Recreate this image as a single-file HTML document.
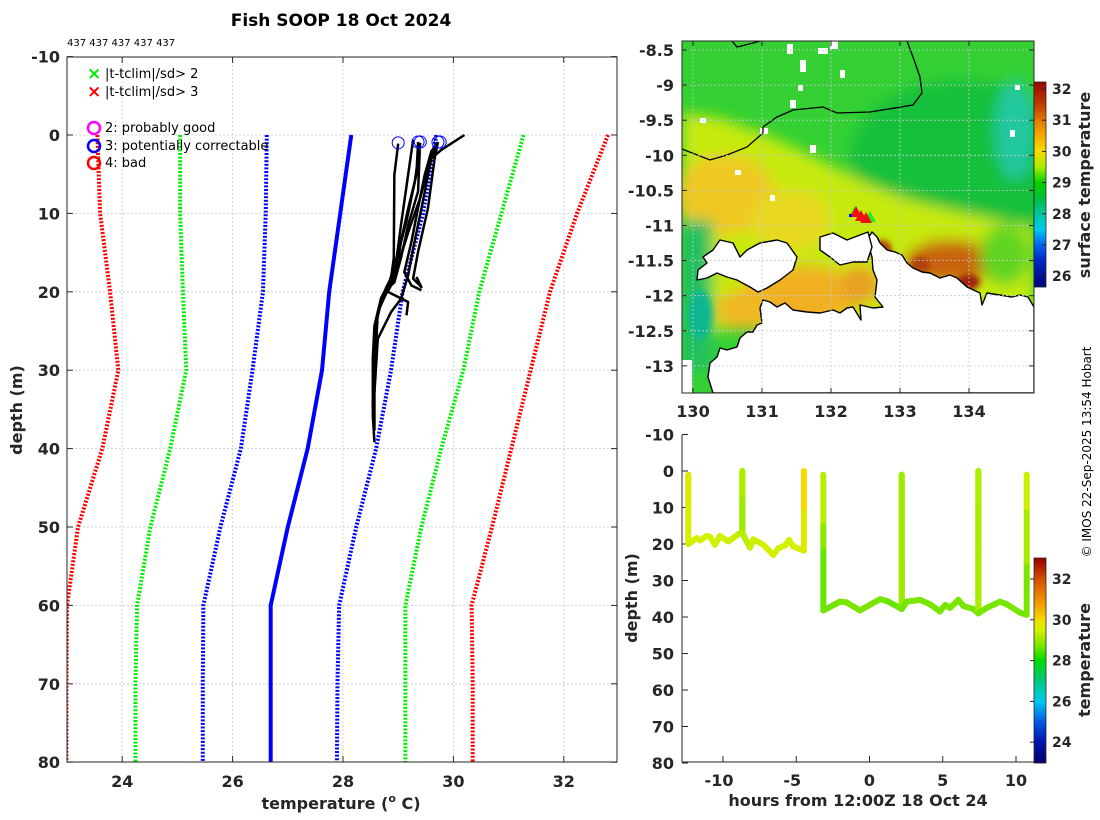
<!DOCTYPE html>
<html><head><meta charset="utf-8"><style>
html,body{margin:0;padding:0;background:#fff;width:1100px;height:820px;overflow:hidden}
svg{display:block;font-family:"DejaVu Sans","Liberation Sans",sans-serif}
.tk{font-weight:bold;font-size:16px;fill:#262626}
.cb{font-weight:bold;font-size:14px;fill:#262626}
.lg{font-size:13px;fill:#000}
</style></head><body>
<svg id="root" width="1100" height="820" viewBox="0 0 1100 820" xmlns="http://www.w3.org/2000/svg">
<defs>
<filter id="bl" x="-20%" y="-20%" width="140%" height="140%"><feGaussianBlur stdDeviation="7"/></filter>
<filter id="bl2" x="-20%" y="-20%" width="140%" height="140%"><feGaussianBlur stdDeviation="3"/></filter>
<clipPath id="mapclip"><rect x="682" y="41" width="352" height="352"/></clipPath>
<clipPath id="lclip"><rect x="67" y="57" width="550" height="706"/></clipPath>
</defs>
<text x="341" y="26" text-anchor="middle" font-size="17" font-weight="bold" fill="#000">Fish SOOP 18 Oct 2024</text>
<text x="67" y="46" font-size="10" fill="#000">437 437 437 437 437</text>

<g id="left"></g>

<g id="map">
 <g clip-path="url(#mapclip)">
  <rect x="682" y="41" width="352" height="352" fill="#34d034"/>
  <g filter="url(#bl)">
   <ellipse cx="960" cy="160" rx="110" ry="80" fill="#18c03a"/>
   <polygon points="682,112 720,118 760,132 800,150 830,165 870,185 910,200 960,212 1034,228 1034,330 682,330" fill="#c6ea10"/>
   <ellipse cx="725" cy="195" rx="50" ry="40" fill="#f0c820"/>
   <ellipse cx="790" cy="220" rx="40" ry="30" fill="#e8d820"/>
   <ellipse cx="800" cy="295" rx="60" ry="30" fill="#f0b020"/>
   <ellipse cx="745" cy="310" rx="30" ry="20" fill="#f0b820"/>
   <ellipse cx="860" cy="285" rx="20" ry="20" fill="#e8a020"/>
   <ellipse cx="950" cy="262" rx="45" ry="22" fill="#c86410"/>
   <ellipse cx="1005" cy="255" rx="25" ry="30" fill="#60d420"/>
   <rect x="682" y="220" width="30" height="150" fill="#20c060"/>
   <ellipse cx="1015" cy="130" rx="20" ry="50" fill="#20c8a0"/>
  </g>
  <g filter="url(#bl2)">
   <ellipse cx="882" cy="250" rx="10" ry="10" fill="#b84010"/>
   <ellipse cx="968" cy="282" rx="12" ry="8" fill="#a02008"/>
   <ellipse cx="920" cy="265" rx="10" ry="8" fill="#b04010"/>
   <ellipse cx="700" cy="315" rx="12" ry="25" fill="#10b890"/>
  </g>
  <g fill="#fff">
   <rect x="787" y="44" width="6" height="10"/><rect x="800" y="60" width="6" height="12"/><rect x="818" y="48" width="10" height="6"/>
   <rect x="840" y="70" width="5" height="8"/><rect x="790" y="100" width="6" height="8"/><rect x="700" y="118" width="6" height="5"/>
   <rect x="760" y="128" width="8" height="6"/><rect x="1010" y="130" width="5" height="7"/><rect x="798" y="85" width="5" height="6"/>
   <rect x="810" y="145" width="6" height="8"/><rect x="830" y="41" width="8" height="8"/><rect x="1015" y="85" width="5" height="5"/>
   <rect x="735" y="170" width="6" height="5"/><rect x="770" y="195" width="5" height="6"/><rect x="682" y="360" width="10" height="33"/>
  </g>
  <g fill="#fff" stroke="#000" stroke-width="1.4" stroke-linejoin="round">
   <polygon points="1034,307 1028,297 1020,295 1012,297 987,293 982,305 980,293 967,287 957,278 950,275 940,278 930,273 922,272 913,268 907,263 902,255 895,252 887,250 880,243 877,237 872,232 867,240 872,257 873,270 877,280 875,297 883,307 873,308 860,305 861,320 853,307 847,308 840,313 833,310 820,313 807,312 793,310 785,303 777,307 770,302 763,300 760,308 762,323 757,325 753,332 747,332 740,338 737,347 727,350 720,348 717,357 710,363 708,377 713,393 1034,393"/>
   <polygon points="820,237 833,233 847,240 860,235 868,232 872,247 867,262 853,262 840,265 830,257 820,250"/>
   <polygon points="720,240 733,243 740,257 747,250 760,243 777,240 787,243 797,257 793,270 780,280 767,288 758,292 750,287 737,280 727,277 717,273 707,278 697,280 698,270 707,263 703,257 713,250"/>
  </g>
  <polyline fill="none" stroke="#000" stroke-width="1.3" points="682,149 710,160 727,155 747,147 763,133 763,127 777,117 793,110 823,107 837,113 870,112 913,105 922,93 920,77 913,57 907,41"/>
  <polyline fill="none" stroke="#000" stroke-width="1.3" points="732,41 737,47 753,43 760,41"/>
  <g>
   <polygon points="855,206 861,217 849,217" fill="#22ee22"/><polygon points="870,211 876,222 864,222" fill="#22ee22"/>
   <polygon points="856,206 862,217 850,217" fill="#ee1111"/><polygon points="861,210 867,221 855,221" fill="#ee1111"/><polygon points="866,212 872,223 860,223" fill="#ee1111"/>
   <rect x="849" y="214" width="3" height="3" fill="#0000dd"/>
  </g>
 </g>
</g>

<g id="ts"></g>

<text transform="translate(1091,452) rotate(-90)" text-anchor="middle" font-size="12" fill="#000">© IMOS 22-Sep-2025 13:54 Hobart</text>
</svg>
<script>
const NS='http://www.w3.org/2000/svg';
// ---------- left profile data ----------
const depthGrid=[0,10,20,30,40,50,60,70,80];
const meanT=[28.15,27.95,27.75,27.62,27.36,27.0,26.69,26.69,26.69];
const sd1Lo=[26.62,26.6,26.55,26.36,26.15,25.78,25.47,25.46,25.46];
const sd1Hi=[29.69,29.45,29.08,28.87,28.6,28.24,27.93,27.9,27.89];
const sd2Lo=[25.05,25.05,25.1,25.16,24.87,24.51,24.27,24.24,24.24];
const sd2Hi=[31.27,30.87,30.47,30.18,29.78,29.42,29.13,29.13,29.13];
const sd3Lo=[23.55,23.6,23.78,23.93,23.64,23.2,23.0,22.99,22.99];
const sd3Hi=[32.8,32.24,31.75,31.4,31.05,30.7,30.33,30.35,30.35];
const profT=[
 [29.0,28.93,28.92,28.87,28.69,28.57,28.54,28.54,28.57],
 [29.36,29.39,29.36,29.18,29.05,28.93,28.75,28.63,28.57,28.57,28.57],
 [29.72,29.6,29.48,29.36,29.24,29.11,29.24,29.42],
 [30.2,29.78,29.6,29.42,29.27,29.18,29.05,28.87,28.63,28.57],
 [29.36,29.33,29.18,29.05,28.96,28.81,29.18,29.15],
 [29.72,29.66,29.54,29.36,29.27,29.42,29.33],
 [29.27,29.05,28.93,28.63,28.54],
 [29.4,29.3,29.15,29.0,28.85,28.7,28.6,28.56],
 [29.7,29.55,29.4,29.2,29.0,28.78,28.62,28.58]
];
const profD=[
 [1.1,5.1,15.7,18.3,20.8,24.3,28.5,35.8,39.2],
 [0.9,2.1,7.2,11.5,15.7,18.8,20.0,22.6,25.1,29.8,37.7],
 [0.9,2.1,5.1,9.3,13.6,17.5,19.2,19.8],
 [0,1.9,3.0,9.4,14.5,17.9,20.9,22.6,26.0,32.8],
 [0.9,5.1,9.4,13.6,17.9,20.0,21.3,23.0],
 [0.9,3.0,9.3,14.9,18.3,19.4,18.1],
 [0.6,11.5,17.9,22.6,34.9],
 [1.0,6.0,11.0,15.0,18.5,21.0,24.0,31.0],
 [1.0,4.0,8.0,12.0,16.5,19.5,23.0,29.0]
];
const flagT=[29.0,29.36,29.4,29.72,29.76];
const flagD=[1.0,0.9,0.9,0.9,0.9];
const lXticks=[24,26,28,30,32];
const lYticks=[-10,0,10,20,30,40,50,60,70,80];
// ---------- map axes ----------
const lonTicks=[130,131,132,133,134];
const latTicks=[-8.5,-9,-9.5,-10,-10.5,-11,-11.5,-12,-12.5,-13];
const mapCbTicks=[26,27,28,29,30,31,32];
// ---------- depth-time data ----------
const segH=[
 [-12.37,-12.37,-12.37,-11.8,-11.57,-11.12,-10.89,-10.55,-10.21,-9.64,-8.95,-8.68,-8.68,-8.68,-8.68,-8.68,-8.16,-7.93,-7.25,-6.57,-6.23,-5.77,-5.48,-5.21,-4.48,-4.48,-4.48],
 [-3.15,-3.15,-3.15,-3.15,-2.02,-1.56,-0.65,0.72,1.29,2.2,2.2,2.2,2.2,2.2,2.54,3.45,4.13,4.81,5.16,5.5,6.07,6.41,7.09,7.43,7.43,7.43,7.43,7.43,8.0,8.91,9.36,10.27,10.73,10.73,10.73,10.73]
];
const segD=[
 [1,10,20,18.4,19,17.8,18,20.2,17.8,19.3,17.3,17,8,0,8,17,21,18.7,20.2,23,21.2,20.4,18.9,20.7,21.8,10,0],
 [1,15,22,38.2,35.8,36,38.2,35.1,35.8,37.8,25,15,1,37.8,35.8,35.3,36.5,38.5,36.7,37.5,35.3,37,37.8,39,20,10,0,39,37.5,35.8,36.5,38.8,39.4,25,10,1]
];
const segT=[
 [29.7,29.6,29.5,29.5,29.5,29.5,29.5,29.5,29.5,29.5,29.4,29.3,28.9,29.4,28.9,29.2,29.4,29.4,29.5,29.6,29.5,29.5,29.5,29.5,29.6,29.8,30.3],
 [29.4,29.2,28.6,28.6,28.7,28.7,28.7,28.7,28.7,28.5,28.5,29.0,29.5,28.6,28.7,28.7,28.7,28.7,28.7,28.7,28.7,28.7,28.7,28.6,28.8,29.2,29.6,28.7,28.7,28.7,28.7,28.7,28.6,28.8,29.4,29.5]
];
const tsXticks=[-10,-5,0,5,10];
const tsYticks=[-10,0,10,20,30,40,50,60,70,80];
const tsCbTicks=[24,26,28,30,32];

// ---------- scales ----------
const lx=t=>67+(t-23)*55.2, ly=d=>135+d*7.84;
const mx=l=>693+(l-130)*69, my=a=>50+(-8.5-a)*70.2;
const tx=h=>869.5+h*14.65, ty=d=>471+d*3.65;
const cb1y=t=>89+(32-t)*31.2;
const cb2y=t=>579+(32-t)*20.4;

function el(tag,attrs,parent){const e=document.createElementNS(NS,tag);for(const k in attrs)e.setAttribute(k,attrs[k]);parent.appendChild(e);return e;}
function txt(s,attrs,parent){const e=el('text',attrs,parent);e.textContent=s;return e;}
function lerpColor(stops,v){
 if(v<=stops[0][0])return 'rgb('+stops[0][1].join(',')+')';
 for(let i=1;i<stops.length;i++){if(v<=stops[i][0]){const a=stops[i-1],b=stops[i],f=(v-a[0])/(b[0]-a[0]);
  const ca=a[1],cc=b[1];return 'rgb('+ca.map((c,j)=>Math.round(c+(cc[j]-c)*f)).join(',')+')';}}
 return 'rgb('+stops[stops.length-1][1].join(',')+')';
}
const mapStops=[[25.6,[0,0,120]],[26,[0,16,150]],[26.5,[0,40,200]],[27,[0,100,240]],[27.5,[0,200,240]],[28,[0,200,160]],[28.5,[0,190,60]],[29,[0,210,0]],[29.5,[170,235,0]],[30,[245,220,0]],[30.5,[245,170,0]],[31,[225,120,0]],[31.5,[190,60,0]],[32.3,[150,0,0]]];
const tsStops=[[23,[0,0,110]],[24,[0,20,170]],[25,[0,90,230]],[26,[0,200,240]],[27,[0,200,130]],[28,[0,220,0]],[28.7,[120,230,0]],[29.5,[210,240,0]],[30,[245,220,0]],[31,[240,140,0]],[32,[210,80,0]],[33,[150,0,0]]];
function grid(parent,x1,y1,x2,y2,name){const g=el('line',{x1,y1,x2,y2,stroke:'#c4c8dc','stroke-width':0.8,'stroke-dasharray':'2 2'},parent);}

// ---------- left panel ----------
const L=document.getElementById('left');
lXticks.forEach(t=>{grid(L,lx(t),57,lx(t),762,'x-gridline');
 el('line',{x1:lx(t),y1:762,x2:lx(t),y2:756,stroke:'#262626'},L);el('line',{x1:lx(t),y1:57,x2:lx(t),y2:63,stroke:'#262626'},L);
 const e=txt(t,{x:lx(t),y:787,'text-anchor':'middle',class:'tk'},L);
 
 });
lYticks.forEach(d=>{if(d>-10&&d<80)grid(L,67,ly(d),617,ly(d),'y-gridline');
 el('line',{x1:67,y1:ly(d),x2:73,y2:ly(d),stroke:'#262626'},L);el('line',{x1:617,y1:ly(d),x2:611,y2:ly(d),stroke:'#262626'},L);
 const e=txt(d,{x:60,y:ly(d)+6,'text-anchor':'end',class:'tk'},L);
 
 });
const lg=el('g',{'clip-path':'url(#lclip)'},L);
function clim(arr,color,dotted,name){
 const p=el('polyline',{points:arr.map((t,i)=>lx(t)+','+ly(depthGrid[i])).join(' '),fill:'none',stroke:color,'stroke-width':4,'stroke-dasharray':dotted?'2 1.6':'none'},lg);
 
 
}
clim(sd3Lo,'#ff0000',true,'clim-minus-3sd');clim(sd3Hi,'#ff0000',true,'clim-plus-3sd');
clim(sd2Lo,'#00ee00',true,'clim-minus-2sd');clim(sd2Hi,'#00ee00',true,'clim-plus-2sd');
clim(sd1Lo,'#0000ff',true,'clim-minus-1sd');clim(sd1Hi,'#0000ff',true,'clim-plus-1sd');
clim(meanT,'#0000ff',false,'clim-mean');
profT.forEach((arr,k)=>{
 const p=el('polyline',{points:arr.map((t,i)=>lx(t)+','+ly(profD[k][i])).join(' '),fill:'none',stroke:'#000','stroke-width':2.5,'stroke-linejoin':'round'},lg);
 
 
});
flagT.forEach((t,i)=>{const c=el('circle',{cx:lx(t),cy:ly(flagD[i]),r:6,fill:'none',stroke:'#0000ff','stroke-width':1},lg);
 
 });
el('rect',{x:67,y:57,width:550,height:705,fill:'none',stroke:'#262626','stroke-width':1},L);
const xl=el('text',{x:341,y:809,'text-anchor':'middle',class:'tk'},L);


xl.appendChild(document.createTextNode('temperature ('));
const sup=el('tspan',{dy:-7,'font-size':11},xl);sup.textContent='o';
const rest=el('tspan',{dy:7},xl);rest.textContent=' C)';
const yl=txt('depth (m)',{transform:'translate(22,410) rotate(-90)','text-anchor':'middle',class:'tk'},L);


// legend
const LG=el('g',{},L);


txt('×',{x:87,y:79,'font-size':17,'font-weight':'bold',fill:'#00ee00'},LG);txt('|t-tclim|/sd> 2',{x:105,y:78,class:'lg'},LG);
txt('×',{x:87,y:97,'font-size':17,'font-weight':'bold',fill:'#ff0000'},LG);txt('|t-tclim|/sd> 3',{x:105,y:96,class:'lg'},LG);
el('circle',{cx:94,cy:128,r:6,fill:'none',stroke:'#ff00ff','stroke-width':2.5},LG);txt('2: probably good',{x:105,y:132,class:'lg'},LG);
el('circle',{cx:94,cy:146,r:6,fill:'none',stroke:'#0000ff','stroke-width':2.5},LG);txt('3: potentially correctable',{x:105,y:150,class:'lg'},LG);
el('circle',{cx:94,cy:163,r:6,fill:'none',stroke:'#ff0000','stroke-width':2.5},LG);txt('4: bad',{x:105,y:167,class:'lg'},LG);

// ---------- map axes ----------
const M=document.getElementById('map');
lonTicks.forEach(l=>{grid(M,mx(l),41,mx(l),393,'lon-gridline');
 el('line',{x1:mx(l),y1:393,x2:mx(l),y2:388,stroke:'#262626'},M);el('line',{x1:mx(l),y1:41,x2:mx(l),y2:46,stroke:'#262626'},M);
 const e=txt(l,{x:mx(l),y:417,'text-anchor':'middle',class:'tk'},M);
 
 });
latTicks.forEach(a=>{grid(M,682,my(a),1034,my(a),'lat-gridline');
 el('line',{x1:682,y1:my(a),x2:687,y2:my(a),stroke:'#262626'},M);el('line',{x1:1034,y1:my(a),x2:1029,y2:my(a),stroke:'#262626'},M);
 const e=txt(a,{x:674,y:my(a)+6,'text-anchor':'end',class:'tk'},M);
 
 });
el('rect',{x:682,y:41,width:352,height:352,fill:'none',stroke:'#262626'},M);
const CB1=el('g',{},M);


for(let y=82;y<287;y++){el('rect',{x:1034,y:y,width:12,height:1.2,fill:lerpColor(mapStops,32-(y+0.5-89)/31.2)},CB1);}
el('rect',{x:1034,y:82,width:12,height:205,fill:'none',stroke:'#262626','stroke-width':0.8},CB1);
mapCbTicks.forEach(t=>{el('line',{x1:1046,y1:cb1y(t),x2:1042,y2:cb1y(t),stroke:'#262626'},CB1);
 const e=txt(t,{x:1052,y:cb1y(t)+5,class:'cb'},CB1);
 
 });
const mcl=txt('surface temperature',{transform:'translate(1090,185) rotate(-90)','text-anchor':'middle',class:'tk','font-size':15},M);



// ---------- depth-time panel ----------
const T=document.getElementById('ts');
tsXticks.forEach(h=>{el('line',{x1:tx(h),y1:762,x2:tx(h),y2:756,stroke:'#262626'},T);
 const e=txt(h,{x:tx(h)+(h<0?-4:0),y:786,'text-anchor':'middle',class:'tk'},T);
 
 });
tsYticks.forEach(d=>{el('line',{x1:682,y1:ty(d),x2:688,y2:ty(d),stroke:'#262626'},T);
 const e=txt(d,{x:674,y:ty(d)+6,'text-anchor':'end',class:'tk'},T);
 
 });
el('polyline',{points:'682,435 682,762 1034,762',fill:'none',stroke:'#262626'},T);
segH.forEach((hs,k)=>{
 for(let i=0;i<hs.length-1;i++){
  const l=el('line',{x1:tx(hs[i]),y1:ty(segD[k][i]),x2:tx(hs[i+1]),y2:ty(segD[k][i+1]),stroke:lerpColor(tsStops,(segT[k][i]+segT[k][i+1])/2),'stroke-width':6,'stroke-linecap':'round'},T);
  
  
 }
});
const txl=txt('hours from 12:00Z 18 Oct 24',{x:858,y:806,'text-anchor':'middle',class:'tk'},T);


const tyl=txt('depth (m)',{transform:'translate(637,598) rotate(-90)','text-anchor':'middle',class:'tk'},T);


const CB2=el('g',{},T);


for(let y=558;y<763;y++){el('rect',{x:1034,y:y,width:12,height:1.2,fill:lerpColor(tsStops,32-(y+0.5-579)/20.4)},CB2);}
el('rect',{x:1034,y:558,width:12,height:205,fill:'none',stroke:'#262626','stroke-width':0.8},CB2);
tsCbTicks.forEach(t=>{el('line',{x1:1034,y1:cb2y(t),x2:1030,y2:cb2y(t),stroke:'#262626'},CB2);
 const e=txt(t,{x:1052,y:cb2y(t)+5,class:'cb'},CB2);
 
 });
const tcl=txt('temperature',{transform:'translate(1090,660) rotate(-90)','text-anchor':'middle',class:'tk','font-size':15},T);


</script>
</body></html>
